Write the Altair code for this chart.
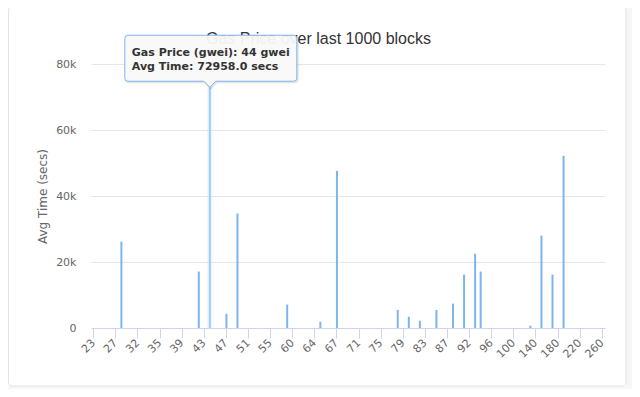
import altair as alt
import pandas as pd

# ---- data ----
gas_prices = [
    "23", "24", "25", "26", "27", "28", "29", "30",
    "32", "33", "34", "34.5", "35", "36", "37", "38",
    "39", "40", "41", "42", "43", "44", "45", "46",
    "47", "48", "49", "50", "51", "52", "53", "54",
    "55", "56", "58", "59", "60", "61", "62", "63",
    "64", "65", "65.5", "66", "67", "68", "69", "70",
    "71", "72", "73", "74", "75", "76", "77", "78",
    "79", "80", "81", "82", "83", "84", "85", "86",
    "87", "88", "89", "90", "92", "93", "94", "95",
    "96", "97", "98", "99", "100", "110", "120", "130",
    "140", "150", "160", "170", "180", "190", "200", "210",
    "220", "230", "240", "250", "260",
]
bar_prices = ["28", "42", "44", "47", "49", "59", "65", "67", "78", "80",
              "82", "85", "88", "90", "93", "94", "130", "150", "170", "190"]
avg_times = [26200, 17100, 72958, 4300, 34700, 7100, 1900, 47600, 5500, 3400,
             2200, 5500, 7400, 16200, 22500, 17100, 700, 28000, 16200, 52200]
hover_price = "44"

title_text = "Gas Price over last 1000 blocks"
y_title = "Avg Time (secs)"
y_ticks = [0, 20000, 40000, 60000, 80000]
x_label_values = gas_prices[::4]

# ---- tables ----
bars_df = pd.DataFrame({"price": bar_prices, "time": avg_times})
bars_df["hover"] = bars_df["price"] == hover_price
hover_time = avg_times[bar_prices.index(hover_price)]
hover_df = pd.DataFrame({
    "price": [hover_price],
    "time": [hover_time],
    "line1": [f"Gas Price (gwei): {hover_price} gwei"],
    "line2": [f"Avg Time: {hover_time:.1f} secs"],
})
band_df = pd.DataFrame({"price": [hover_price], "time": [y_ticks[-1]], "bottom": [y_ticks[0]]})
one_df = pd.DataFrame({"t": [title_text]})

# ---- style ----
W, H = 514, 264
FONT = "DejaVu Sans"
LABEL = "#666666"
AXIS_LINE = "#ccd6eb"
BAR = "#7cb5ec"
BAR_HOVER = "#95ceff"

x_enc = alt.X(
    "price:N",
    scale=alt.Scale(domain=gas_prices, paddingInner=0, paddingOuter=0),
    sort=gas_prices,
    axis=alt.Axis(
        values=x_label_values, title=None, labelAngle=315, labelAlign="right",
        labelBaseline="middle", labelFont=FONT, labelFontSize=11, labelColor=LABEL,
        tickColor=AXIS_LINE, tickSize=10, domainColor=AXIS_LINE, labelPadding=3,
        labelOverlap=False, grid=False,
    ),
)
y_enc = alt.Y(
    "time:Q",
    scale=alt.Scale(domain=[y_ticks[0], y_ticks[-1]], nice=False),
    axis=alt.Axis(
        values=y_ticks, labelExpr="datum.value == 0 ? '0' : datum.value / 1000 + 'k'",
        title=y_title, titleFont=FONT, titleFontSize=12, titleFontWeight="normal",
        titleColor=LABEL, titlePadding=6, labelFont=FONT, labelFontSize=11,
        labelColor=LABEL, labelPadding=15, domain=False, ticks=False,
        gridColor="#e6e6e6", grid=True,
    ),
)

# tooltip callout shape (custom symbol path, 1 unit = S px)
S = 86.0


def callout(off=0.0):
    def p(x, y):
        return f"{(x + off) / S:.4f} {(y + off) / S:.4f}"
    l, r_, t, b, rad, n = -85, 87, -52, -6, 3, 6
    return (f"M{p(l + rad, t)}L{p(r_ - rad, t)}Q{p(r_, t)} {p(r_, t + rad)}"
            f"L{p(r_, b - rad)}Q{p(r_, b)} {p(r_ - rad, b)}L{p(n, b)}L{p(0, 0)}L{p(-n, b)}"
            f"L{p(l + rad, b)}Q{p(l, b)} {p(l, b - rad)}L{p(l, t + rad)}Q{p(l, t)} {p(l + rad, t)}Z")


# ---- layers ----
outer = alt.Chart(one_df).mark_rect(fill=None, stroke="#f5f6f8", strokeWidth=20).encode(
    x=alt.value(-92.5), x2=alt.value(545), y=alt.value(-67.5), y2=alt.value(332)
)
card = alt.Chart(one_df).mark_rect(fill=None, stroke="#e2e2e2", strokeWidth=1, cornerRadius=4).encode(
    x=alt.value(-82.5), x2=alt.value(535), y=alt.value(-57.5), y2=alt.value(322)
)

crosshair = alt.Chart(band_df).mark_rect(color=AXIS_LINE, opacity=0.25).encode(
    x=x_enc, y=y_enc, y2="bottom:Q",
)

bars = alt.Chart(bars_df).mark_bar(width=2).encode(
    x=x_enc, y=y_enc,
    color=alt.condition("datum.hover", alt.value(BAR_HOVER), alt.value(BAR)),
)

title = alt.Chart(one_df).mark_text(
    font="Liberation Sans", fontSize=16, color="#333333", align="center", baseline="alphabetic"
).encode(x=alt.value(227.5), y=alt.value(-20), text="t:N")

tip_shadow = alt.Chart(hover_df).mark_point(
    shape=callout(1.0), size=S * S * 4, filled=False, stroke="#000000",
    strokeOpacity=0.1, strokeWidth=2, opacity=1,
).encode(x=x_enc, y=y_enc)

tip_box = alt.Chart(hover_df).mark_point(
    shape=callout(), size=S * S * 4, filled=True, fill="#f9f9f9", fillOpacity=0.95,
    stroke=BAR, strokeWidth=1, opacity=1,
).encode(x=x_enc, y=y_enc)

tip_l1 = alt.Chart(hover_df).mark_text(
    font=FONT, fontSize=11, fontWeight="bold", color="#333333", align="left",
    baseline="alphabetic", dx=-78, dy=-31
).encode(x=x_enc, y=y_enc, text="line1:N")

tip_l2 = alt.Chart(hover_df).mark_text(
    font=FONT, fontSize=11, fontWeight="bold", color="#333333", align="left",
    baseline="alphabetic", dx=-78, dy=-17.5
).encode(x=x_enc, y=y_enc, text="line2:N")

chart = alt.layer(
    outer, card, crosshair, bars, title, tip_shadow, tip_box, tip_l1, tip_l2
).properties(
    width=W, height=H,
    autosize=alt.AutoSizeParams(type="none"),
    padding={"left": 83, "top": 56, "right": 27, "bottom": 61},
).configure(background="white").configure_view(stroke=None)

chart.save("out.html", embed_options={"renderer": "svg", "actions": False})
